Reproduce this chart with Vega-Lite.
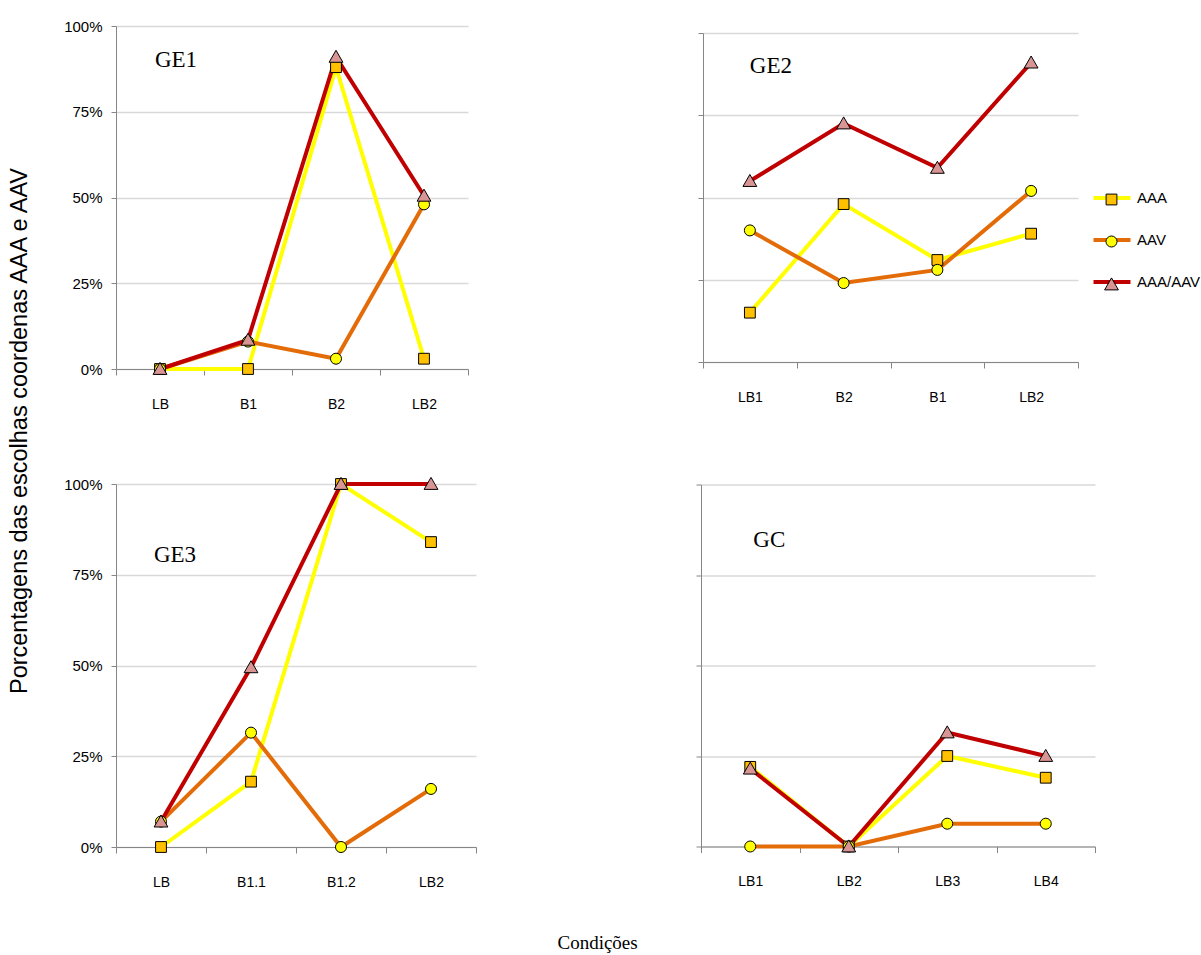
{
  "$schema": "https://vega.github.io/schema/vega-lite/v6.json",
  "background": "white",
  "padding": {"left": 8, "top": 19, "right": 5, "bottom": 5},
  "config": {
    "view": {"stroke": null},
    "font": "Liberation Sans",
    "axis": {
      "domainColor": "#868686",
      "tickColor": "#868686",
      "labelColor": "black",
      "labelFont": "Liberation Sans",
      "labelFontSize": 15,
      "gridColor": "#d9d9d9",
      "gridWidth": 1.5,
      "title": null
    },
    "axisX": {"tickBand": "extent", "tickSize": 6, "labelPadding": 22, "labelAngle": 0, "grid": false, "labelFontSize": 14},
    "axisY": {"tickSize": 5, "labelPadding": 9, "grid": true}
  },
  "datasets": {
    "todos": [
      {"grupo": "GE1", "condicao": "LB", "serie": "AAA", "pct": 0},
      {"grupo": "GE1", "condicao": "B1", "serie": "AAA", "pct": 0},
      {"grupo": "GE1", "condicao": "B2", "serie": "AAA", "pct": 88},
      {"grupo": "GE1", "condicao": "LB2", "serie": "AAA", "pct": 3},
      {"grupo": "GE1", "condicao": "LB", "serie": "AAV", "pct": 0},
      {"grupo": "GE1", "condicao": "B1", "serie": "AAV", "pct": 8},
      {"grupo": "GE1", "condicao": "B2", "serie": "AAV", "pct": 3},
      {"grupo": "GE1", "condicao": "LB2", "serie": "AAV", "pct": 48},
      {"grupo": "GE1", "condicao": "LB", "serie": "AAA/AAV", "pct": 0},
      {"grupo": "GE1", "condicao": "B1", "serie": "AAA/AAV", "pct": 8.5},
      {"grupo": "GE1", "condicao": "B2", "serie": "AAA/AAV", "pct": 91},
      {"grupo": "GE1", "condicao": "LB2", "serie": "AAA/AAV", "pct": 50.5},
      {"grupo": "GE2", "condicao": "LB1", "serie": "AAA", "pct": 15},
      {"grupo": "GE2", "condicao": "B2", "serie": "AAA", "pct": 48},
      {"grupo": "GE2", "condicao": "B1", "serie": "AAA", "pct": 31},
      {"grupo": "GE2", "condicao": "LB2", "serie": "AAA", "pct": 39},
      {"grupo": "GE2", "condicao": "LB1", "serie": "AAV", "pct": 40},
      {"grupo": "GE2", "condicao": "B2", "serie": "AAV", "pct": 24},
      {"grupo": "GE2", "condicao": "B1", "serie": "AAV", "pct": 28},
      {"grupo": "GE2", "condicao": "LB2", "serie": "AAV", "pct": 52},
      {"grupo": "GE2", "condicao": "LB1", "serie": "AAA/AAV", "pct": 55},
      {"grupo": "GE2", "condicao": "B2", "serie": "AAA/AAV", "pct": 72.5},
      {"grupo": "GE2", "condicao": "B1", "serie": "AAA/AAV", "pct": 59},
      {"grupo": "GE2", "condicao": "LB2", "serie": "AAA/AAV", "pct": 91},
      {"grupo": "GE3", "condicao": "LB", "serie": "AAA", "pct": 0},
      {"grupo": "GE3", "condicao": "B1.1", "serie": "AAA", "pct": 18},
      {"grupo": "GE3", "condicao": "B1.2", "serie": "AAA", "pct": 100},
      {"grupo": "GE3", "condicao": "LB2", "serie": "AAA", "pct": 84},
      {"grupo": "GE3", "condicao": "LB", "serie": "AAV", "pct": 7},
      {"grupo": "GE3", "condicao": "B1.1", "serie": "AAV", "pct": 31.5},
      {"grupo": "GE3", "condicao": "B1.2", "serie": "AAV", "pct": 0},
      {"grupo": "GE3", "condicao": "LB2", "serie": "AAV", "pct": 16},
      {"grupo": "GE3", "condicao": "LB", "serie": "AAA/AAV", "pct": 7},
      {"grupo": "GE3", "condicao": "B1.1", "serie": "AAA/AAV", "pct": 49.5},
      {"grupo": "GE3", "condicao": "B1.2", "serie": "AAA/AAV", "pct": 100},
      {"grupo": "GE3", "condicao": "LB2", "serie": "AAA/AAV", "pct": 100},
      {"grupo": "GC", "condicao": "LB1", "serie": "AAA", "pct": 22},
      {"grupo": "GC", "condicao": "LB2", "serie": "AAA", "pct": 0},
      {"grupo": "GC", "condicao": "LB3", "serie": "AAA", "pct": 25},
      {"grupo": "GC", "condicao": "LB4", "serie": "AAA", "pct": 19},
      {"grupo": "GC", "condicao": "LB1", "serie": "AAV", "pct": 0},
      {"grupo": "GC", "condicao": "LB2", "serie": "AAV", "pct": 0},
      {"grupo": "GC", "condicao": "LB3", "serie": "AAV", "pct": 6.3},
      {"grupo": "GC", "condicao": "LB4", "serie": "AAV", "pct": 6.3},
      {"grupo": "GC", "condicao": "LB1", "serie": "AAA/AAV", "pct": 21.5},
      {"grupo": "GC", "condicao": "LB2", "serie": "AAA/AAV", "pct": 0},
      {"grupo": "GC", "condicao": "LB3", "serie": "AAA/AAV", "pct": 31.5},
      {"grupo": "GC", "condicao": "LB4", "serie": "AAA/AAV", "pct": 25}
    ]
  },
  "title": {
    "text": "Porcentagens das escolhas coordenas  AAA e AAV",
    "orient": "left",
    "anchor": "middle",
    "font": "Liberation Sans",
    "fontSize": 23.5,
    "fontWeight": "normal",
    "color": "black",
    "offset": 32,
    "dx": 55
  },
  "vconcat": [
    {
      "title": {
        "text": "Condições",
        "orient": "bottom",
        "anchor": "middle",
        "font": "Liberation Serif",
        "fontSize": 19,
        "fontWeight": "normal",
        "color": "black",
        "offset": 45,
        "dx": 18
      },
      "spacing": 64,
      "vconcat": [
        {
          "spacing": 228,
          "center": true,
          "hconcat": [
            {
              "width": 352,
              "height": 343,
              "data": {"name": "todos"},
              "transform": [{"filter": "datum.grupo == 'GE1'"}],
              "encoding": {
                "x": {"field": "condicao", "type": "nominal", "sort": ["LB", "B1", "B2", "LB2"], "bandPosition": 0.5, "scale": {"type": "band", "paddingInner": 0, "paddingOuter": 0}},
                "y": {"field": "pct", "type": "quantitative", "scale": {"domain": [0, 100], "nice": false}, "axis": {"values": [0, 25, 50, 75, 100], "labelExpr": "datum.value + '%'"}}
              },
              "layer": [
                {"mark": {"type": "line", "strokeWidth": 4},
                 "encoding": {"color": {"field": "serie", "type": "nominal", "scale": {"domain": ["AAA", "AAV", "AAA/AAV", "-"], "range": ["#FFFF00", "#E36C09", "#C00000", "#ffffff"]},
                   "legend": {"values": ["AAA", "AAV", "AAA/AAV"], "orient": "none", "legendX": 975, "legendY": 151, "title": null, "symbolType": "stroke", "symbolSize": 1370, "symbolStrokeWidth": 4, "labelFontSize": 15, "labelFont": "Liberation Sans", "labelColor": "black", "rowPadding": 13, "labelOffset": 4}}}},
                {"mark": {"type": "point", "filled": true, "stroke": "black", "strokeWidth": 1, "opacity": 1, "size": 144},
                 "encoding": {
                   "fill": {"field": "serie", "type": "nominal", "scale": {"domain": ["AAA", "AAV", "AAA/AAV"], "range": ["#FFC000", "#FFFF00", "#D99594"]},
                     "legend": {"orient": "none", "legendX": 988, "legendY": 166, "title": null, "labelExpr": "''", "symbolStrokeColor": "black", "symbolStrokeWidth": 1, "symbolSize": 144, "rowPadding": 25, "labelFontSize": 15,
                       "encoding": {"symbols": {"stroke": {"value": "black"}, "strokeWidth": {"value": 1}}}}},
                   "shape": {"field": "serie", "type": "nominal", "scale": {"domain": ["AAA", "AAV", "AAA/AAV"], "range": ["M-0.9,-0.9H0.9V0.9H-0.9Z", "M0.92,0A0.92,0.92 0 1,1 -0.92,0A0.92,0.92 0 1,1 0.92,0Z", "M0,-1.1L1.15,0.9L-1.15,0.9Z"]},
                     "legend": {"orient": "none", "legendX": 988, "legendY": 166, "title": null, "labelExpr": "''", "symbolStrokeColor": "black", "symbolStrokeWidth": 1, "symbolSize": 144, "rowPadding": 25, "labelFontSize": 15,
                       "encoding": {"symbols": {"stroke": {"value": "black"}, "strokeWidth": {"value": 1}}}}}
                 }},
                {"transform": [{"filter": "datum.serie == 'AAA' && datum.condicao == 'LB'"}],
                 "mark": {"type": "text", "font": "Liberation Serif", "fontSize": 23, "align": "center", "baseline": "middle", "dx": 16, "color": "black"},
                 "encoding": {"y": {"datum": 90}, "text": {"field": "grupo"}}}
              ]
            },
            {
              "width": 375,
              "height": 329,
              "data": {"name": "todos"},
              "transform": [{"filter": "datum.grupo == 'GE2'"}],
              "encoding": {
                "x": {"field": "condicao", "type": "nominal", "sort": ["LB1", "B2", "B1", "LB2"], "bandPosition": 0.5, "scale": {"type": "band", "paddingInner": 0, "paddingOuter": 0}},
                "y": {"field": "pct", "type": "quantitative", "scale": {"domain": [0, 100], "nice": false}, "axis": {"values": [0, 25, 50, 75, 100], "labels": false}}
              },
              "layer": [
                {"mark": {"type": "line", "strokeWidth": 4},
                 "encoding": {"color": {"field": "serie", "type": "nominal"}}},
                {"mark": {"type": "point", "filled": true, "stroke": "black", "strokeWidth": 1, "opacity": 1, "size": 144},
                 "encoding": {
                   "fill": {"field": "serie", "type": "nominal"},
                   "shape": {"field": "serie", "type": "nominal"}
                 }},
                {"transform": [{"filter": "datum.serie == 'AAA' && datum.condicao == 'LB1'"}],
                 "mark": {"type": "text", "font": "Liberation Serif", "fontSize": 23, "align": "center", "baseline": "middle", "dx": 21, "color": "black"},
                 "encoding": {"y": {"datum": 90}, "text": {"field": "grupo"}}}
              ]
            }
          ]
        },
        {
          "spacing": 218,
          "center": true,
          "hconcat": [
            {
              "width": 360,
              "height": 363,
              "data": {"name": "todos"},
              "transform": [{"filter": "datum.grupo == 'GE3'"}],
              "encoding": {
                "x": {"field": "condicao", "type": "nominal", "sort": ["LB", "B1.1", "B1.2", "LB2"], "bandPosition": 0.5, "scale": {"type": "band", "paddingInner": 0, "paddingOuter": 0}},
                "y": {"field": "pct", "type": "quantitative", "scale": {"domain": [0, 100], "nice": false}, "axis": {"values": [0, 25, 50, 75, 100], "labelExpr": "datum.value + '%'"}}
              },
              "layer": [
                {"mark": {"type": "line", "strokeWidth": 4},
                 "encoding": {"color": {"field": "serie", "type": "nominal"}}},
                {"mark": {"type": "point", "filled": true, "stroke": "black", "strokeWidth": 1, "opacity": 1, "size": 144},
                 "encoding": {
                   "fill": {"field": "serie", "type": "nominal"},
                   "shape": {"field": "serie", "type": "nominal"}
                 }},
                {"transform": [{"filter": "datum.serie == 'AAA' && datum.condicao == 'LB'"}],
                 "mark": {"type": "text", "font": "Liberation Serif", "fontSize": 23, "align": "center", "baseline": "middle", "dx": 14, "color": "black"},
                 "encoding": {"y": {"datum": 80.5}, "text": {"field": "grupo"}}}
              ]
            },
            {
              "width": 394,
              "height": 362,
              "data": {"name": "todos"},
              "transform": [{"filter": "datum.grupo == 'GC'"}],
              "encoding": {
                "x": {"field": "condicao", "type": "nominal", "sort": ["LB1", "LB2", "LB3", "LB4"], "bandPosition": 0.5, "scale": {"type": "band", "paddingInner": 0, "paddingOuter": 0}},
                "y": {"field": "pct", "type": "quantitative", "scale": {"domain": [0, 100], "nice": false}, "axis": {"values": [0, 25, 50, 75, 100], "labels": false}}
              },
              "layer": [
                {"mark": {"type": "line", "strokeWidth": 4},
                 "encoding": {"color": {"field": "serie", "type": "nominal"}}},
                {"mark": {"type": "point", "filled": true, "stroke": "black", "strokeWidth": 1, "opacity": 1, "size": 144},
                 "encoding": {
                   "fill": {"field": "serie", "type": "nominal"},
                   "shape": {"field": "serie", "type": "nominal"}
                 }},
                {"transform": [{"filter": "datum.serie == 'AAA' && datum.condicao == 'LB1'"}],
                 "mark": {"type": "text", "font": "Liberation Serif", "fontSize": 23, "align": "center", "baseline": "middle", "dx": 19, "color": "black"},
                 "encoding": {"y": {"datum": 84.8}, "text": {"field": "grupo"}}}
              ]
            }
          ]
        }
      ]
    }
  ]
}
